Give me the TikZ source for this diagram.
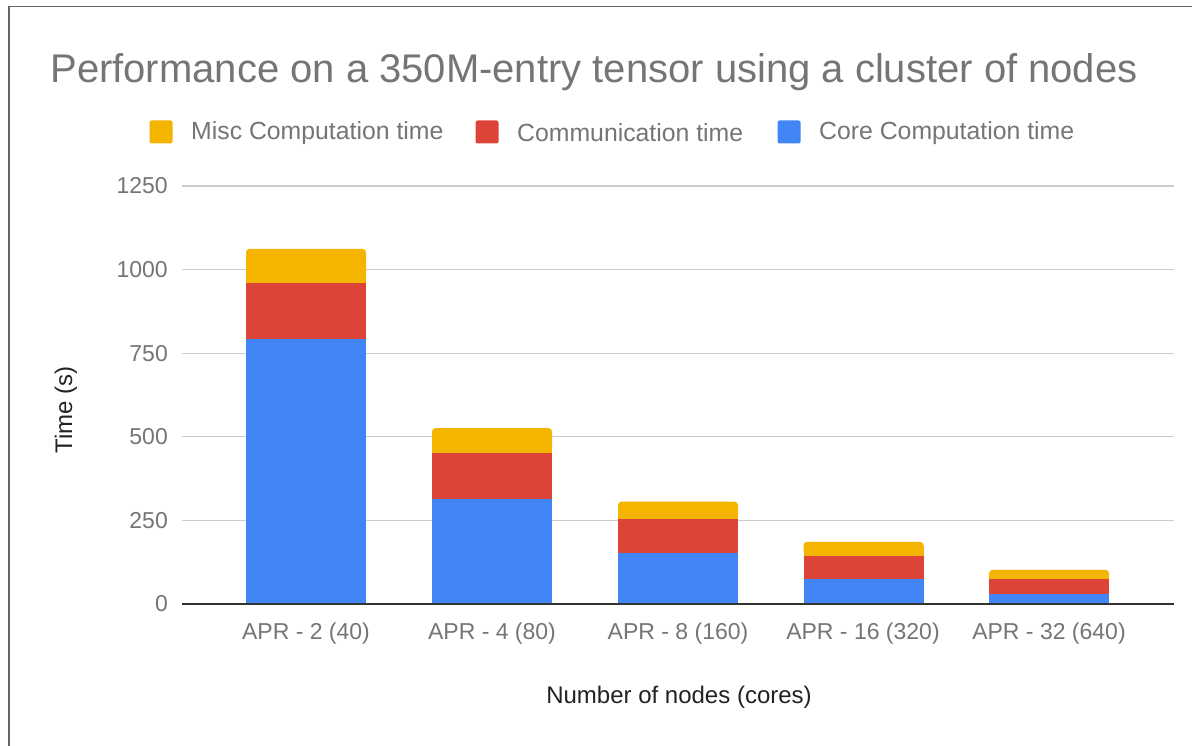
\documentclass[tikz,border=0pt]{standalone}
\usepackage{fontspec}
\setmainfont{Liberation Sans}
\definecolor{cyel}{HTML}{F4B400}
\definecolor{cred}{HTML}{DB4437}
\definecolor{cblue}{HTML}{4285F4}
\definecolor{ctext}{HTML}{757575}
\definecolor{cdark}{HTML}{222222}
\definecolor{cgrid}{HTML}{CCCCCC}
\definecolor{caxis}{HTML}{333333}
\definecolor{cframe}{HTML}{666666}
\newcommand{\mybar}[4]{%
  % #1 left x, #2 core, #3 comm top, #4 total
  \fill[cblue] (#1,604) rectangle ({#1+120},{604-#2*0.3344});
  \fill[cred] (#1,{604-#2*0.3344}) rectangle ({#1+120},{604-#3*0.3344});
  \fill[cyel] (#1,{604-#3*0.3344}) rectangle ({#1+120},{604-#4*0.3344+4});
  \fill[cyel,rounded corners=3.5] (#1,{604-#3*0.3344-1}) rectangle ({#1+120},{604-#4*0.3344});
}
\begin{document}
\begin{tikzpicture}[x=1pt,y=-1pt,
  ticklab/.style={text=ctext,font=\fontsize{23}{26}\selectfont,anchor=east,inner sep=0pt},
  xlab/.style={text=ctext,font=\fontsize{23}{26}\selectfont,anchor=center,inner sep=0pt},
  legtext/.style={text=ctext,font=\fontsize{24.8}{28}\selectfont,anchor=west,inner sep=0pt},
  legbox/.style={rounded corners=2,minimum size=23,inner sep=0pt},
  axtitle/.style={text=cdark,font=\fontsize{24}{28}\selectfont,inner sep=0pt}]
\useasboundingbox (0,0) rectangle (1192,746);
\fill[white] (0,0) rectangle (1192,746);
% frame
\draw[cframe,line width=1.5] (9,746) -- (9,6.5) -- (1192,6.5);
% title
\node[text=ctext,font=\fontsize{40}{46}\selectfont,inner sep=0pt] (title) at (594,72) {Performance on a 350M-entry tensor using a cluster of nodes};
% legend
\node[legbox,fill=cyel] (l1) at (161,132) {};
\node[legtext] (l1t) at (191,133) {Misc Computation time};
\node[legbox,fill=cred] (l2) at (487,132) {};
\node[legtext] (l2t) at (517,133) {Communication time};
\node[legbox,fill=cblue] (l3) at (789,132) {};
\node[legtext] (l3t) at (819,133) {Core Computation time};
% grid
\foreach \v/\t in {1/250,2/500,3/750,4/1000,5/1250}{
  \draw[cgrid,line width=1.2] (182,{604-\v*83.6}) -- (1174,{604-\v*83.6});
  \node[ticklab] (t\v) at (168,{604-\v*83.6}) {\t};
}
\node[ticklab] (t0) at (168,604) {0};
% bars
\mybar{246}{792}{960}{1062}
\mybar{432}{314}{451}{526}
\mybar{618}{152}{253}{306}
\mybar{803.5}{74}{144}{186}
\mybar{989}{31}{74}{102}
% axis
\draw[caxis,line width=1.6] (182,604) -- (1174,604);
% x labels
\node[xlab] (x1) at (306,634) {APR - 2 (40)};
\node[xlab] (x2) at (492,634) {APR - 4 (80)};
\node[xlab] (x3) at (678,634) {APR - 8 (160)};
\node[xlab] (x4) at (863,634) {APR - 16 (320)};
\node[xlab] (x5) at (1049,634) {APR - 32 (640)};
% axis titles
\node[axtitle] (xt) at (679,697) {Number of nodes (cores)};
\node[axtitle,rotate=90] (yt) at (66,410) {Time (s)};
\end{tikzpicture}
\end{document}
